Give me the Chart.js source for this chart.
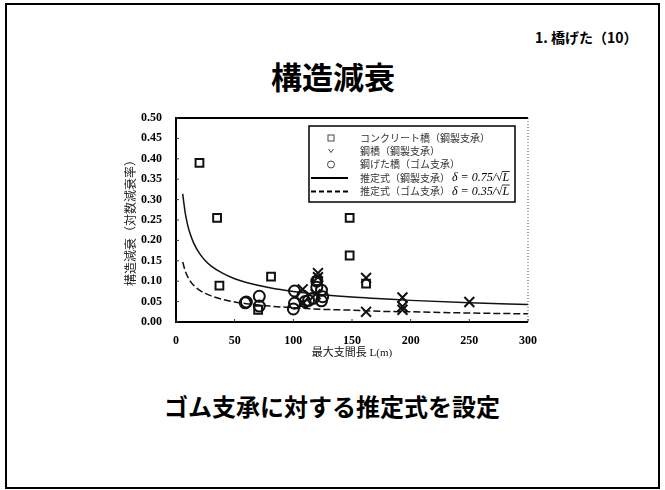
<!DOCTYPE html>
<html lang="ja">
<head>
<meta charset="utf-8">
<script src="https://cdn.jsdelivr.net/npm/chart.js@4/dist/chart.umd.min.js"></script>
<style>
  html, body { margin: 0; padding: 0; background: #fff; }
  body { width: 665px; height: 490px; position: relative; overflow: hidden; }
  #frame { position: absolute; left: 5px; top: 3px; width: 655px; height: 486px;
           border: 2px solid #000; box-sizing: border-box; }
  .txt { position: absolute; font-family: "Noto Sans CJK JP", sans-serif; color: #000; white-space: nowrap; }
  #section { left: 535px; top: 27px; font-size: 14px; font-weight: 700; line-height: 20px; }
  #heading { left: 333px; top: 56px; transform: translateX(-50%); font-size: 31px; font-weight: 700; line-height: 40px; }
  #note { left: 332px; top: 390px; transform: translateX(-50%); font-size: 24px; font-weight: 700; line-height: 32px; }
  #c { position: absolute; left: 0; top: 0; }
</style>
</head>
<body>
<div id="frame"></div>
<div class="txt" id="section">1. 橋げた（10）</div>
<div class="txt" id="heading">構造減衰</div>
<div class="txt" id="note">ゴム支承に対する推定式を設定</div>
<canvas id="c" width="665" height="490"></canvas>
<script>
// Span length L (m) and logarithmic decrement for each bridge group
const concreteL = [20, 35, 37, 70, 81, 120, 148, 148, 162];
const concreteD = [0.39, 0.255, 0.089, 0.030, 0.111, 0.100, 0.255, 0.163, 0.094];

const steelL = [108, 108, 121, 121, 119, 162, 162, 193, 193, 193, 250];
const steelD = [0.080, 0.045, 0.120, 0.110, 0.068, 0.108, 0.025, 0.060, 0.038, 0.030, 0.049];

const girderL = [60, 59, 71, 71, 101, 101, 100, 108, 113, 117, 120, 120, 124, 125, 124, 110];
const girderD = [0.049, 0.047, 0.063, 0.039, 0.076, 0.046, 0.032, 0.064, 0.053, 0.058, 0.100, 0.085, 0.078, 0.062, 0.052, 0.050];

// Fitted curves: steel bearings (δ=0.75/√L) and rubber bearings (δ=0.35/√L)
const curveL      = [5.7, 8, 10, 12, 15, 20, 25, 30, 40, 50, 60, 80, 100, 125, 150, 175, 200, 250, 300];
const steelFitD   = [0.314, 0.265, 0.237, 0.217, 0.194, 0.168, 0.150, 0.137, 0.119, 0.106, 0.097, 0.084, 0.075, 0.067, 0.061, 0.057, 0.053, 0.047, 0.043];
const rubberFitD  = [0.147, 0.124, 0.111, 0.101, 0.090, 0.078, 0.070, 0.064, 0.055, 0.049, 0.045, 0.039, 0.035, 0.031, 0.029, 0.026, 0.025, 0.022, 0.020];

// Axis tick values
const xTickValues = [0, 50, 100, 150, 200, 250, 300];
const yTickValues = [0, 0.05, 0.10, 0.15, 0.20, 0.25, 0.30, 0.35, 0.40, 0.45, 0.50];

const pts = (xs, ys) => xs.map((x, i) => ({ x: x, y: ys[i] }));

const INK = '#111';
const serifBold = { family: "'Liberation Serif', 'DejaVu Serif', serif", size: 12, weight: 'bold' };

// Plot frame, inward tick marks and the legend box
const decorations = {
  id: 'decorations',
  afterDraw(chart) {
    const ctx = chart.ctx;
    const a = chart.chartArea;
    const xs = chart.scales.x, ys = chart.scales.y;
    ctx.save();
    // frame
    ctx.strokeStyle = '#000';
    ctx.lineWidth = 2;
    ctx.beginPath();
    ctx.moveTo(a.right, a.top); ctx.lineTo(a.left, a.top);
    ctx.lineTo(a.left, a.bottom); ctx.lineTo(a.right, a.bottom);
    ctx.stroke();
    ctx.lineWidth = 1;
    ctx.strokeStyle = '#555';
    ctx.setLineDash([1, 2]);
    ctx.beginPath(); ctx.moveTo(a.right, a.top); ctx.lineTo(a.right, a.bottom); ctx.stroke();
    ctx.setLineDash([]);
    // inward ticks
    ctx.strokeStyle = '#333';
    ctx.lineWidth = 1;
    ctx.beginPath();
    yTickValues.forEach(v => {
      const y = ys.getPixelForValue(v);
      ctx.moveTo(a.left, y); ctx.lineTo(a.left + 3, y);
    });
    xTickValues.forEach(v => {
      const x = xs.getPixelForValue(v);
      ctx.moveTo(x, a.bottom); ctx.lineTo(x, a.bottom - 3);
    });
    ctx.stroke();

    // legend
    const bx = 309, by = 126, bw = 206, bh = 76;
    ctx.fillStyle = '#fff';
    ctx.fillRect(bx, by, bw, bh);
    ctx.strokeStyle = '#000';
    ctx.lineWidth = 1.5;
    ctx.strokeRect(bx, by, bw, bh);

    const rows = [138, 151, 164.5, 178, 191.5];
    const symX = 331;
    ctx.strokeStyle = '#444';
    ctx.lineWidth = 1;
    // square
    ctx.strokeRect(symX - 3, rows[0] - 3, 6, 6);
    // small cross
    ctx.beginPath();
    ctx.moveTo(symX - 2.5, rows[1] - 2); ctx.lineTo(symX, rows[1] + 1.5); ctx.lineTo(symX + 2.5, rows[1] - 2);
    ctx.stroke();
    // circle
    ctx.beginPath(); ctx.arc(symX, rows[2], 3.5, 0, Math.PI * 2); ctx.stroke();
    // solid and dashed lines
    ctx.strokeStyle = '#000';
    ctx.lineWidth = 2;
    ctx.beginPath(); ctx.moveTo(311, rows[3]); ctx.lineTo(348, rows[3]); ctx.stroke();
    ctx.setLineDash([5, 3]);
    ctx.beginPath(); ctx.moveTo(311, rows[4]); ctx.lineTo(348, rows[4]); ctx.stroke();
    ctx.setLineDash([]);

    ctx.fillStyle = '#333';
    ctx.textBaseline = 'middle';
    ctx.textAlign = 'left';
    ctx.font = "10px 'Noto Sans CJK JP', sans-serif";
    const labels = ['コンクリート橋（鋼製支承）', '鋼橋（鋼製支承）', '鋼げた橋（ゴム支承）', '推定式（鋼製支承）', '推定式（ゴム支承）'];
    labels.forEach((t, i) => ctx.fillText(t, 360, rows[i]));

    // formulas
    ctx.fillStyle = '#000';
    ctx.strokeStyle = '#000';
    ctx.font = "italic 12px 'Liberation Serif', serif";
    ['δ = 0.75/√L', 'δ = 0.35/√L'].forEach((t, i) => {
      const y = rows[i + 3];
      ctx.fillText(t, 452, y);
      const w = ctx.measureText(t).width;
      const wl = ctx.measureText('L').width;
      ctx.lineWidth = 0.8;
      ctx.beginPath();
      ctx.moveTo(452 + w - wl - 0.5, y - 6.5); ctx.lineTo(452 + w + 0.5, y - 6.5);
      ctx.stroke();
    });
    ctx.restore();
  }
};

new Chart(document.getElementById('c'), {
  type: 'scatter',
  data: {
    datasets: [
      {
        label: 'コンクリート橋（鋼製支承）',
        data: pts(concreteL, concreteD),
        pointStyle: 'rect', pointRadius: 5.5, pointBorderWidth: 2,
        borderColor: INK, backgroundColor: 'rgba(0,0,0,0)'
      },
      {
        label: '鋼橋（鋼製支承）',
        data: pts(steelL, steelD),
        pointStyle: 'crossRot', pointRadius: 7, pointBorderWidth: 2,
        borderColor: INK, backgroundColor: 'rgba(0,0,0,0)'
      },
      {
        label: '鋼げた橋（ゴム支承）',
        data: pts(girderL, girderD),
        pointStyle: 'circle', pointRadius: 5.5, pointBorderWidth: 2,
        borderColor: INK, backgroundColor: 'rgba(0,0,0,0)'
      },
      {
        type: 'line',
        label: '推定式（鋼製支承）',
        data: pts(curveL, steelFitD),
        borderColor: INK, borderWidth: 1.5, pointRadius: 0,
        cubicInterpolationMode: 'monotone', fill: false
      },
      {
        type: 'line',
        label: '推定式（ゴム支承）',
        data: pts(curveL, rubberFitD),
        borderColor: INK, borderWidth: 1.5, borderDash: [7, 3], pointRadius: 0,
        cubicInterpolationMode: 'monotone', fill: false
      }
    ]
  },
  options: {
    responsive: false,
    animation: false,
    events: [],
    layout: { padding: { left: 118, top: 118, right: 137, bottom: 110 } },
    plugins: { legend: { display: false }, tooltip: { enabled: false } },
    scales: {
      x: {
        type: 'linear', min: 0, max: 300,
        afterFit(s) { s.height = 58; },
        afterBuildTicks(s) { s.ticks = xTickValues.map(v => ({ value: v })); },
        grid: { display: false, drawTicks: false },
        border: { display: false },
        ticks: { padding: 12, color: '#000', font: serifBold, callback: v => String(v), maxRotation: 0 },
        title: {
          display: true, text: '最大支間長 L(m)', color: '#111',
          font: { family: "'Liberation Serif', 'Noto Sans CJK JP', serif", size: 11 },
          padding: { top: 0, bottom: 20 }
        }
      },
      y: {
        type: 'linear', min: 0, max: 0.5,
        afterFit(s) { s.width = 58; },
        afterBuildTicks(s) { s.ticks = yTickValues.map(v => ({ value: v })); },
        grid: { display: false, drawTicks: false },
        border: { display: false },
        ticks: { padding: 14, color: '#000', font: serifBold, callback: v => v.toFixed(2) },
        title: {
          display: true, text: '構造減衰（対数減衰率）', color: '#222',
          font: { family: "'Noto Sans CJK JP', sans-serif", size: 12 },
          padding: { top: 5, bottom: 0 }
        }
      }
    }
  },
  plugins: [decorations]
});
</script>
</body>
</html>
